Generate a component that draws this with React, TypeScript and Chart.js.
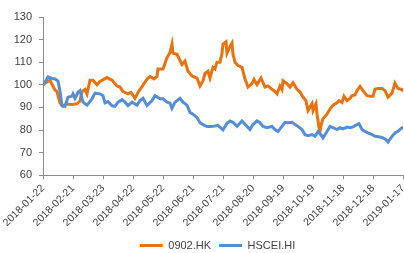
import { useEffect, useRef } from 'react';
import { Chart, registerables } from 'chart.js';

Chart.register(...registerables);

// Dates are given as day offsets from START_DATE
const START_DATE = '2018-01-22';
const X_MAX_DAYS = 360;
const X_STEP_DAYS = 30;

const Y_MIN = 60;
const Y_MAX = 130;
const Y_STEP = 10;

const seriesNames = ['0902.HK', 'HSCEI.HI'];

const hkDays = [
  0, 4, 7, 12, 14, 17, 20, 24, 29, 34,
  37, 39, 42, 44, 47, 50, 54, 57, 64, 69,
  74, 77, 80, 85, 88, 92, 95, 99, 104, 107,
  111, 114, 115, 120, 124, 127, 129, 130, 134, 139,
  142, 145, 149, 154, 157, 160, 162, 165, 167, 170,
  172, 174, 177, 179, 180, 183, 184, 187, 189, 190,
  192, 195, 199, 202, 205, 209, 211, 214, 218, 222,
  225, 229, 232, 234, 237, 239, 240, 244, 247, 250,
  254, 257, 260, 263, 265, 269, 270, 273, 274, 276,
  277, 278, 280, 284, 287, 290, 294, 296, 299, 301,
  304, 307, 309, 312, 314, 317, 320, 324, 327, 330,
  332, 335, 339, 342, 345, 349, 352, 355, 359, 360,
];
const hkValues = [
  100, 101.3, 102, 97.7, 97, 92, 90.6, 91.5, 91.3, 91.6,
  92.8, 97, 98, 96, 102, 102, 100, 101.5, 103.2, 102,
  99.5, 99, 97, 96, 96.6, 94, 96.6, 99.2, 102.5, 103.7,
  102.6, 103.7, 107, 107, 112, 114.3, 118, 114, 113.5, 109,
  110.5, 106, 103.9, 103, 99.5, 101.8, 105, 106, 103, 107.7,
  107, 110, 110, 113.8, 118, 119, 114, 117, 118.5, 113.5,
  110, 108.5, 107.7, 102.5, 99, 100.5, 102.4, 100.1, 103, 99,
  99.5, 98, 97, 96, 99.5, 98, 101.8, 100.5, 99, 100.9,
  98, 96.8, 94.6, 93, 88.6, 91.6, 88.6, 91.6, 87, 81.2,
  79.5, 81.9, 85, 87, 89.3, 91, 92, 93, 92.2, 95,
  93, 94, 95.2, 95.5, 97.4, 99.3, 97.4, 95.2, 94.9, 94.9,
  98, 98.4, 98.4, 97.4, 94.5, 96.3, 100.8, 98.4, 97.9, 97,
];

const hsceiDays = [
  0, 3, 5, 9, 12, 15, 17, 19, 22, 25,
  29, 30, 32, 35, 37, 40, 44, 49, 52, 57,
  60, 62, 65, 69, 72, 75, 79, 82, 85, 89,
  94, 97, 100, 104, 109, 112, 117, 120, 124, 127,
  129, 132, 137, 140, 144, 147, 150, 154, 157, 160,
  164, 167, 170, 175, 180, 184, 187, 190, 194, 199,
  204, 207, 210, 214, 217, 220, 224, 229, 232, 235,
  239, 242, 245, 249, 252, 255, 259, 262, 265, 269,
  272, 275, 278, 280, 284, 287, 290, 294, 297, 300,
  304, 307, 310, 314, 316, 319, 322, 325, 329, 332,
  337, 340, 343, 345, 349, 352, 355, 359, 360,
];
const hsceiValues = [
  100, 102, 103.5, 102.8, 102.6, 101.6, 97.3, 90.7, 90.5, 94.5,
  95, 96, 94, 96.7, 97.4, 92.3, 91, 93.8, 96.3, 96,
  95.2, 92, 92.6, 90.7, 90.5, 92.3, 93.4, 92.3, 90.8, 92.3,
  91, 93, 94, 90.8, 93, 95.2, 93.8, 93.8, 92.3, 91.9,
  89.6, 92.3, 94, 92.3, 91, 87.8, 87, 85.5, 83.2, 82.4,
  81.5, 81.5, 81.6, 82, 80, 83, 84, 83.4, 81.6, 84,
  81.6, 80.2, 82.4, 84, 83.2, 81.6, 81, 81.6, 80.2, 79.3,
  81.6, 83.4, 83.2, 83.4, 82.4, 81.6, 80.2, 77.9, 77.5, 78,
  77.2, 79.3, 77.9, 76.5, 79.3, 81.6, 81, 80.2, 81, 80.5,
  81.3, 81, 81.4, 82.4, 82.8, 80.2, 79.4, 78.7, 78, 77.2,
  76.9, 76.5, 75.7, 74.7, 77.2, 78.7, 79.4, 81, 81,
];

const ORANGE = '#E8720E';
const BLUE = '#558ED5';
const AXIS = '#8C8C8C';
const TEXT = '#404040';
const FONT = 'Liberation Sans';

function dayToLabel(d: number): string {
  const t = Date.parse(START_DATE) + d * 86400000;
  return new Date(t).toISOString().slice(0, 10);
}

function toPoints(days: number[], values: number[]) {
  return days.map((d, i) => ({ x: d, y: values[i] }));
}

// Nudges the legend box to sit where the reference puts it, and lets the
// rotated x labels extend below the axis box without being clipped.
const placement = {
  id: 'placement',
  afterLayout(chart: any) {
    const lg = chart.legend;
    if (lg) {
      lg.left = 32;
      lg.top += 8;
      lg.bottom += 8;
    }
    const x = chart.scales.x;
    if (x) x.bottom = 250;
  },
};

export default function App() {
  const ref = useRef<HTMLCanvasElement | null>(null);

  useEffect(() => {
    if (!ref.current) return;
    const chart = new Chart(ref.current, {
      type: 'line',
      data: {
        datasets: [
          {
            label: seriesNames[0],
            data: toPoints(hkDays, hkValues),
            borderColor: ORANGE,
            backgroundColor: ORANGE,
            borderWidth: 3,
            pointRadius: 0,
            tension: 0,
            order: 1,
          },
          {
            label: seriesNames[1],
            data: toPoints(hsceiDays, hsceiValues),
            borderColor: BLUE,
            backgroundColor: BLUE,
            borderWidth: 3,
            pointRadius: 0,
            tension: 0,
            order: 0,
          },
        ],
      },
      plugins: [placement],
      options: {
        animation: false,
        responsive: true,
        maintainAspectRatio: false,
        layout: { padding: { left: 14, right: 1, top: 17, bottom: 0 } },
        plugins: {
          tooltip: { enabled: false },
          legend: {
            position: 'bottom',
            labels: {
              font: { family: FONT, size: 11 },
              color: TEXT,
              boxWidth: 23,
              boxHeight: 3,
              padding: 8,
              sort: (a: any, b: any) => a.datasetIndex - b.datasetIndex,
              generateLabels: (c: any) =>
                Chart.defaults.plugins.legend.labels
                  .generateLabels(c)
                  .map((l: any) => ({ ...l, lineWidth: 0 })),
            },
          },
        },
        scales: {
          x: {
            type: 'linear',
            min: 0,
            max: X_MAX_DAYS,
            afterFit: (s: any) => {
              s.height = 48.8;
              s.paddingLeft = 0;
              s.paddingRight = 0;
            },
            ticks: {
              stepSize: X_STEP_DAYS,
              autoSkip: false,
              maxRotation: 45,
              minRotation: 45,
              padding: 3,
              color: TEXT,
              font: { family: FONT, size: 10.5 },
              callback: (v: any) => dayToLabel(Number(v)),
            },
            grid: {
              display: true,
              drawOnChartArea: false,
              drawTicks: true,
              tickLength: 4,
              color: AXIS,
            },
            border: { display: true, color: AXIS, width: 1 },
          },
          y: {
            min: Y_MIN,
            max: Y_MAX,
            afterFit: (s: any) => {
              s.width = 29;
            },
            ticks: {
              stepSize: Y_STEP,
              padding: 7,
              color: TEXT,
              font: { family: FONT, size: 11 },
            },
            grid: {
              display: true,
              drawOnChartArea: false,
              drawTicks: true,
              tickLength: 4,
              color: AXIS,
            },
            border: { display: true, color: AXIS, width: 1 },
          },
        },
      },
    });
    return () => chart.destroy();
  }, []);

  return (
    <div style={{ position: 'fixed', left: 0, top: 0, width: 404, height: 253, background: '#fff' }}>
      <canvas ref={ref} />
    </div>
  );
}
